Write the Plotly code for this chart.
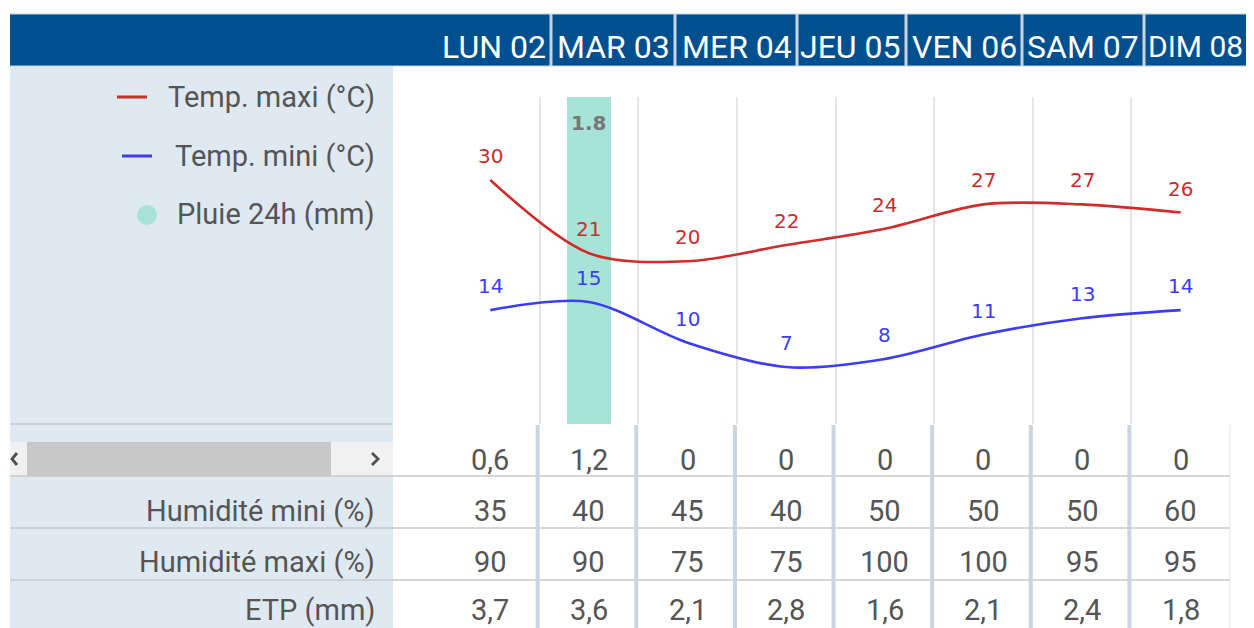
import plotly.graph_objects as go

# ---------------- data ----------------
days = ["LUN 02", "MAR 03", "MER 04", "JEU 05", "VEN 06", "SAM 07", "DIM 08"]
cols = list(range(8))
temp_max = [30, 21, 20, 22, 24, 27, 27, 26]
temp_min = [14, 15, 10, 7, 8, 11, 13, 14]
rain_24h = [0, 1.8, 0, 0, 0, 0, 0, 0]
row_rain = [0.6, 1.2, 0, 0, 0, 0, 0, 0]
hum_min = [35, 40, 45, 40, 50, 50, 50, 60]
hum_max = [90, 90, 75, 75, 100, 100, 95, 95]
etp = [3.7, 3.6, 2.1, 2.8, 1.6, 2.1, 2.4, 1.8]
row_labels = ["", "Humidité mini (%)", "Humidité maxi (%)", "ETP (mm)"]
series_names = ["Temp. maxi (°C)", "Temp. mini (°C)", "Pluie 24h (mm)"]

# ---------------- styling / geometry ----------------
RED = "#cf2c2c"
BLUE = "#3c3cf6"
TEAL = "#a8e3d7"
NAVY = "#004f8e"
PANEL = "#dfe9f2"
TXT = "#555555"
FONT = "Roboto"
OFF = 8
W, H = 1254 - OFF, 628 - OFF


def P(x):
    return (x - OFF) / W


def Q(y):
    return 1 - (y - OFF) / H


def fr(v):
    return f"{v:g}".replace(".", ",")


fig = go.Figure()

fig.add_trace(go.Bar(x=cols, y=rain_24h, width=0.45, marker=dict(color=TEAL, line=dict(width=0)),
                     name=series_names[2], xaxis="x", yaxis="y", hoverinfo="skip"))
fig.add_trace(go.Scatter(x=cols, y=temp_max, mode="lines", line=dict(color=RED, width=2.6, shape="spline", smoothing=0.9),
                         name=series_names[0], xaxis="x", yaxis="y2"))
fig.add_trace(go.Scatter(x=cols, y=temp_min, mode="lines", line=dict(color=BLUE, width=2.6, shape="spline", smoothing=0.9),
                         name=series_names[1], xaxis="x", yaxis="y2"))

shapes = []
ann = []

# left panel background
shapes.append(dict(type="rect", xref="paper", yref="paper", x0=P(10), x1=P(393), y0=Q(640), y1=Q(65),
                   fillcolor=PANEL, line=dict(width=0), layer="below"))
# header band
shapes.append(dict(type="rect", xref="paper", yref="paper", x0=P(10), x1=P(1260), y0=Q(66), y1=Q(14),
                   fillcolor=NAVY, line=dict(width=0), layer="below"))
for yy in (14, 66):
    shapes.append(dict(type="line", xref="paper", yref="paper", x0=P(10), x1=P(1260), y0=Q(yy), y1=Q(yy),
                       line=dict(color="#c9d3dd", width=1)))
header_edges = [550, 674, 796, 905, 1021, 1143, 1247]
header_sizes = [32, 32, 32, 32, 32, 32, 30]
for e in header_edges[:-1]:
    shapes.append(dict(type="line", xref="paper", yref="paper", x0=P(e + 1), x1=P(e + 1), y0=Q(66), y1=Q(14),
                       line=dict(color="#c9d3dd", width=3)))
for d, e, s in zip(days, header_edges, header_sizes):
    ann.append(dict(text=d, x=P(e - 2), y=Q(47), xref="paper", yref="paper", xanchor="right", yanchor="middle",
                    showarrow=False, font=dict(family=FONT, size=s, color="white")))

# line under chart in the left panel
shapes.append(dict(type="line", xref="paper", yref="paper", x0=P(10), x1=P(393), y0=Q(424), y1=Q(424),
                   line=dict(color="#c4c9cf", width=1.5)))

# scrollbar
shapes.append(dict(type="rect", xref="paper", yref="paper", x0=P(10), x1=P(393), y0=Q(476), y1=Q(442),
                   fillcolor="#f1f1f1", line=dict(width=0)))
shapes.append(dict(type="rect", xref="paper", yref="paper", x0=P(27), x1=P(331), y0=Q(476), y1=Q(442),
                   fillcolor="#c8c8c8", line=dict(width=0)))
shapes.append(dict(type="path", xref="paper", yref="paper",
                   path=f"M {P(17)} {Q(453)} L {P(12)} {Q(459)} L {P(17)} {Q(465)}",
                   line=dict(color="#505050", width=2.8)))
shapes.append(dict(type="path", xref="paper", yref="paper",
                   path=f"M {P(372)} {Q(453)} L {P(378)} {Q(459)} L {P(372)} {Q(465)}",
                   line=dict(color="#505050", width=2.8)))

# legend (manual)
legend_y = [97, 156, 214]
shapes.append(dict(type="line", xref="paper", yref="paper", x0=P(117), x1=P(147), y0=Q(97), y1=Q(97),
                   line=dict(color=RED, width=3)))
shapes.append(dict(type="line", xref="paper", yref="paper", x0=P(122), x1=P(152), y0=Q(156), y1=Q(156),
                   line=dict(color=BLUE, width=3)))
shapes.append(dict(type="circle", xref="paper", yref="paper", x0=P(137), x1=P(157), y0=Q(225), y1=Q(205),
                   fillcolor=TEAL, line=dict(width=0)))
for name, yy in zip(series_names, legend_y):
    ann.append(dict(text=name, x=P(377), y=Q(yy), xref="paper", yref="paper", xanchor="right", yanchor="middle",
                    showarrow=False, font=dict(family=FONT, size=29, color=TXT)))

# point labels
for i, v in zip(cols, temp_max):
    ann.append(dict(text=str(v), x=i, y=v, xref="x", yref="y2", yshift=24, showarrow=False,
                    font=dict(family="DejaVu Sans", size=20, color=RED)))
for i, v in zip(cols, temp_min):
    ann.append(dict(text=str(v), x=i, y=v, xref="x", yref="y2", yshift=24, showarrow=False,
                    font=dict(family="DejaVu Sans", size=20, color=BLUE)))
for i, v in zip(cols, rain_24h):
    if v > 0:
        ann.append(dict(text=f"<b>{v:g}</b>", x=i, y=v, xref="x", yref="y", yshift=-26, showarrow=False,
                        font=dict(family="DejaVu Sans", size=20, color="#777777")))

# table
rows = [row_rain, hum_min, hum_max, etp]
row_centers = [460, 511, 562, 610]
for lab, vals, yc in zip(row_labels, rows, row_centers):
    if lab:
        ann.append(dict(text=lab, x=P(377), y=Q(yc), xref="paper", yref="paper", xanchor="right", yanchor="middle",
                        showarrow=False, font=dict(family=FONT, size=29, color=TXT)))
    for i, v in zip(cols, vals):
        ann.append(dict(text=fr(v), x=i, y=Q(yc), xref="x", yref="paper", yanchor="middle", showarrow=False,
                        font=dict(family=FONT, size=29, color=TXT)))
for yy in (476, 528, 580):
    shapes.append(dict(type="line", xref="paper", yref="paper", x0=P(10), x1=P(1230), y0=Q(yy), y1=Q(yy),
                       line=dict(color="#c8c8c8", width=1.5)))
for i in cols[:-1]:
    shapes.append(dict(type="line", xref="x", yref="paper", x0=i + 0.48, x1=i + 0.48, y0=Q(425), y1=Q(640),
                       line=dict(color="#c9d5df", width=4)))
shapes.append(dict(type="line", xref="paper", yref="paper", x0=P(1230), x1=P(1230), y0=Q(425), y1=Q(640),
                   line=dict(color="#e4e4e4", width=1)))

fig.update_layout(
    width=W, height=H,
    margin=dict(l=0, r=0, t=0, b=0),
    paper_bgcolor="white", plot_bgcolor="white",
    showlegend=False,
    bargap=0,
    xaxis=dict(domain=[P(441), P(1230)], range=[-0.5, 7.5], tickvals=[c - 0.5 for c in cols],
               showticklabels=False, showgrid=True, gridcolor="#e6e6e6", gridwidth=1.5, zeroline=False,
               showline=False, fixedrange=True),
    yaxis=dict(domain=[Q(424), Q(97)], range=[0, max(rain_24h)], showgrid=False, zeroline=False,
               showticklabels=False, showline=False),
    yaxis2=dict(domain=[Q(424), Q(97)], range=[0, 40.2], overlaying="y", showgrid=False, zeroline=False,
                showticklabels=False, showline=False),
    shapes=shapes,
    annotations=ann,
)

fig.write_html("out.html")
